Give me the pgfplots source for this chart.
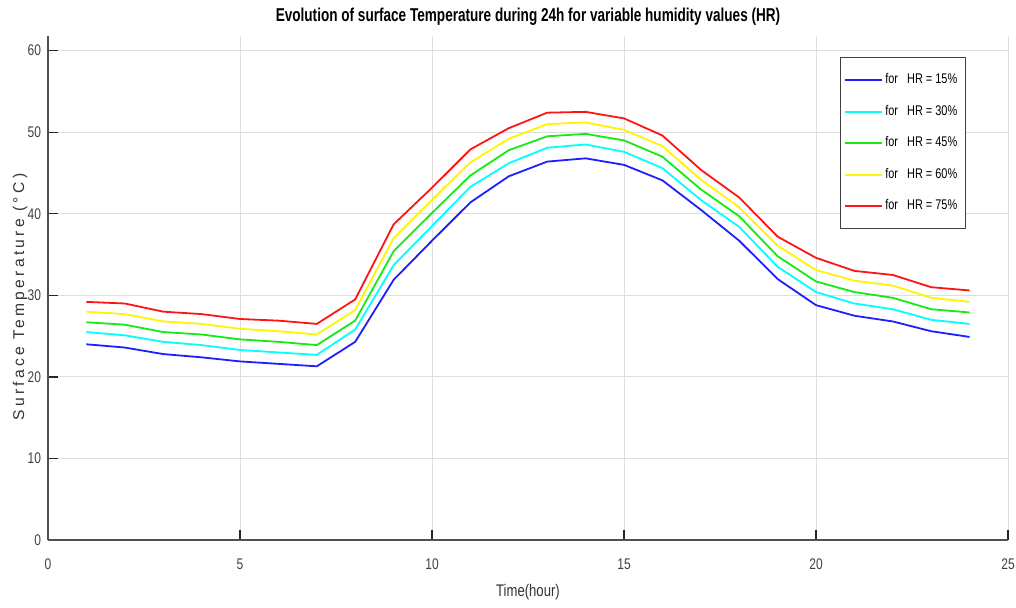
\documentclass[border=0pt]{standalone}
\usepackage{fontspec}
\setmainfont{Liberation Sans}[FakeStretch=0.78]
\newfontfamily\titlefont{Liberation Sans}[FakeStretch=0.73]
\newfontfamily\ylabfont{Liberation Sans}[LetterSpace=21]
\usepackage{pgfplots}
\usepackage{pgfplotstable}
\pgfplotsset{compat=1.18}
\definecolor{gridgray}{RGB}{222,222,222}
\definecolor{axgray}{RGB}{80,80,80}
\pgfplotstableread{
x  h15  h30  h45  h60  h75
1  24.0 25.5 26.7 28.0 29.2
2  23.6 25.1 26.4 27.7 29.0
3  22.8 24.3 25.5 26.8 28.0
4  22.4 23.9 25.2 26.5 27.7
5  21.9 23.3 24.6 25.9 27.1
6  21.6 23.0 24.3 25.6 26.9
7  21.3 22.7 23.9 25.2 26.5
8  24.3 25.8 26.9 28.2 29.5
9  31.9 33.7 35.4 37.0 38.7
10 36.7 38.5 40.1 41.7 43.2
11 41.4 43.3 44.7 46.3 47.9
12 44.6 46.2 47.8 49.2 50.5
13 46.4 48.1 49.5 51.0 52.4
14 46.8 48.5 49.8 51.2 52.5
15 46.0 47.6 49.0 50.3 51.7
16 44.1 45.6 47.0 48.3 49.6
17 40.5 41.7 43.0 44.2 45.4
18 36.7 38.4 39.7 40.8 42.0
19 32.0 33.5 34.8 36.1 37.2
20 28.8 30.4 31.7 33.1 34.6
21 27.5 29.0 30.4 31.8 33.0
22 26.8 28.3 29.7 31.2 32.5
23 25.6 27.0 28.3 29.7 31.0
24 24.9 26.5 27.9 29.2 30.6
}\datatable
\begin{document}
\begin{tikzpicture}
\path[use as bounding box] (-24pt,-33.5pt) rectangle (484pt,270pt);
\begin{axis}[
  at={(0,0)}, anchor=south west,
  scale only axis,
  width=480pt, height=252pt,
  xmin=0, xmax=25, ymin=0, ymax=61.8,
  xtick={0,5,...,25}, ytick={0,10,...,60},
  axis x line*=bottom, axis y line*=left,
  axis line style={axgray, line width=0.7pt},
  tick align=inside,
  major tick length=5pt,
  tick style={black!85, line width=0.6pt},
  grid=major,
  major grid style={gridgray, line width=0.5pt},
  /pgf/number format/assume math mode=true,
  tick label style={font=\fontsize{7.7}{9}\selectfont, text=black!75},
  xticklabel style={yshift=-6pt},
  every axis title shift=0pt,
  title={\titlefont\bfseries\fontsize{9.3}{11}\selectfont Evolution of surface Temperature during 24h for variable humidity values (HR)},
  title style={anchor=center, at={(axis description cs:0.5,1)}, yshift=9.5pt},
  xlabel={\fontsize{8.4}{10}\selectfont Time(hour)},
  xlabel style={anchor=center, at={(axis description cs:0.5,0)}, yshift=-26pt, text=black!80},
  ylabel={\ylabfont\fontsize{7.8}{9}\selectfont Surface Temperature (°C)},
  ylabel style={anchor=center, at={(axis description cs:0,0.482)}, yshift=14pt, text=black!80},
  legend style={at={(rel axis cs:0.956,0.958)}, anchor=north east,
    draw=black!75, line width=0.5pt, font=\fontsize{7}{8.5}\selectfont,
    row sep=5.2pt, inner xsep=2pt, inner ysep=6pt},
  legend cell align=left,
  legend image code/.code={\draw[#1] (0cm,0cm) -- (18.5pt,0cm);},
  every axis plot/.append style={line width=0.9pt},
]
\addplot[color={rgb,255:red,30;green,30;blue,255}] table[x=x,y=h15] {\datatable};
\addplot[color={rgb,255:red,0;green,255;blue,255}] table[x=x,y=h30] {\datatable};
\addplot[color={rgb,255:red,20;green,235;blue,20}] table[x=x,y=h45] {\datatable};
\addplot[color={rgb,255:red,255;green,245;blue,0}] table[x=x,y=h60] {\datatable};
\addplot[color={rgb,255:red,255;green,20;blue,20}] table[x=x,y=h75] {\datatable};
\legend{\hspace*{-1pt}for\ \ \ HR = 15\%, \hspace*{-1pt}for\ \ \ HR = 30\%, \hspace*{-1pt}for\ \ \ HR = 45\%, \hspace*{-1pt}for\ \ \ HR = 60\%, \hspace*{-1pt}for\ \ \ HR = 75\%}
\end{axis}
\end{tikzpicture}
\end{document}
